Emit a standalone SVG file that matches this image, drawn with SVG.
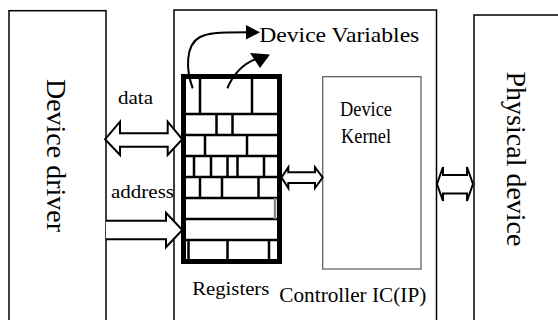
<svg xmlns="http://www.w3.org/2000/svg" width="558" height="320" viewBox="0 0 558 320">
<style>
.box{fill:#fff;stroke:#000;stroke-width:1.5}
.kbox{fill:#fff;stroke:#555;stroke-width:1.2}
text{font-family:'Liberation Serif','Times New Roman',Times,serif;fill:#000}
.arr{fill:#fff;stroke:#000;stroke-width:2;stroke-linejoin:miter}
.cell{stroke:#000;stroke-width:2.5;fill:none}
.curve{fill:none;stroke:#000;stroke-width:2}
</style>
<rect width="558" height="320" fill="#fff"/>
<g id="device-driver">
<rect class="box" x="9" y="10.7" width="97" height="320"/>
<text font-family="Liberation Serif" font-size="28" text-anchor="middle" transform="translate(47,155.5) rotate(90)">Device driver</text>
</g>
<g id="physical-device">
<rect class="box" x="474" y="15" width="100" height="320"/>
<text font-family="Liberation Serif" font-size="28" text-anchor="middle" transform="translate(507,159) rotate(90)">Physical device</text>
</g>
<g id="controller">
<rect class="box" x="174" y="10" width="262.5" height="320"/>
<text font-family="Liberation Serif" font-size="20" x="279.3" y="301.7" textLength="147" lengthAdjust="spacingAndGlyphs">Controller IC(IP)</text>
</g>
<g id="device-kernel">
<rect class="kbox" x="322.7" y="76.7" width="98.3" height="192.3"/>
<text font-family="Liberation Serif" font-size="20" x="366" y="116" text-anchor="middle" textLength="52" lengthAdjust="spacingAndGlyphs">Device</text>
<text font-family="Liberation Serif" font-size="20" x="366" y="142.5" text-anchor="middle" textLength="50" lengthAdjust="spacingAndGlyphs">Kernel</text>
</g>
<g id="registers">
<rect x="183.5" y="76.5" width="96" height="185" fill="#fff" stroke="#000" stroke-width="5"/>
<path class="cell" d="M186 114H277M186 135H277M186 156H277M186 177H277M186 198H277M186 219H277M186 240H277
M200 78V114M252 78V114
M216.5 114V135M232.5 114V135
M205 135V156M247 135V156
M194 156V177M211 156V177M227.5 156V177M237.5 156V177M264 156V177
M200 177V198M222 177V198M258.5 177V198
M188.5 240V259M227.5 240V259M269 240V259"/>
<path d="M275 198V219" stroke="#888" stroke-width="2.5"/>
<text font-family="Liberation Serif" font-size="19" x="192.3" y="295" textLength="77" lengthAdjust="spacingAndGlyphs">Registers</text>
</g>
<g id="device-variables">
<text font-family="Liberation Serif" font-size="21" x="259.3" y="41.7" textLength="160" lengthAdjust="spacingAndGlyphs">Device Variables</text>
</g>
<g id="connectors">
<path class="curve" d="M192.7 88.3C186 70 185 45 200 37C208 33 215 32.3 248 32.3"/>
<polygon points="246,25 260,32.3 246,39.5" fill="#000"/>
<path class="curve" d="M227.3 88.3C233 75 243 64 256 59"/>
<polygon points="250,53 270,54.5 260,68" fill="#000"/>
<polygon class="arr" points="105,139.3 120,121.7 120,133.3 167.7,133.3 167.7,121.7 182.3,139.3 167.7,155 167.7,146.7 120,146.7 120,155"/>
<path class="arr" d="M106 220.7H166V212.7L182.3 230L166 247.3V239.3H106"/>
<polygon class="arr" points="281.5,177.5 288.3,167.3 288.3,172.3 315,172.3 315,167.3 322.7,177.5 315,188 315,183 288.3,183 288.3,188"/>
<polygon class="arr" points="437,184 443,167 443,175 467,175 467,167 473,184 467,201 467,193.5 443,193.5 443,201"/>
<text font-family="Liberation Serif" font-size="19" x="118" y="104" textLength="35" lengthAdjust="spacingAndGlyphs">data</text>
<text font-family="Liberation Serif" font-size="19" x="111" y="198.3" textLength="63" lengthAdjust="spacingAndGlyphs">address</text>
</g>
</svg>
